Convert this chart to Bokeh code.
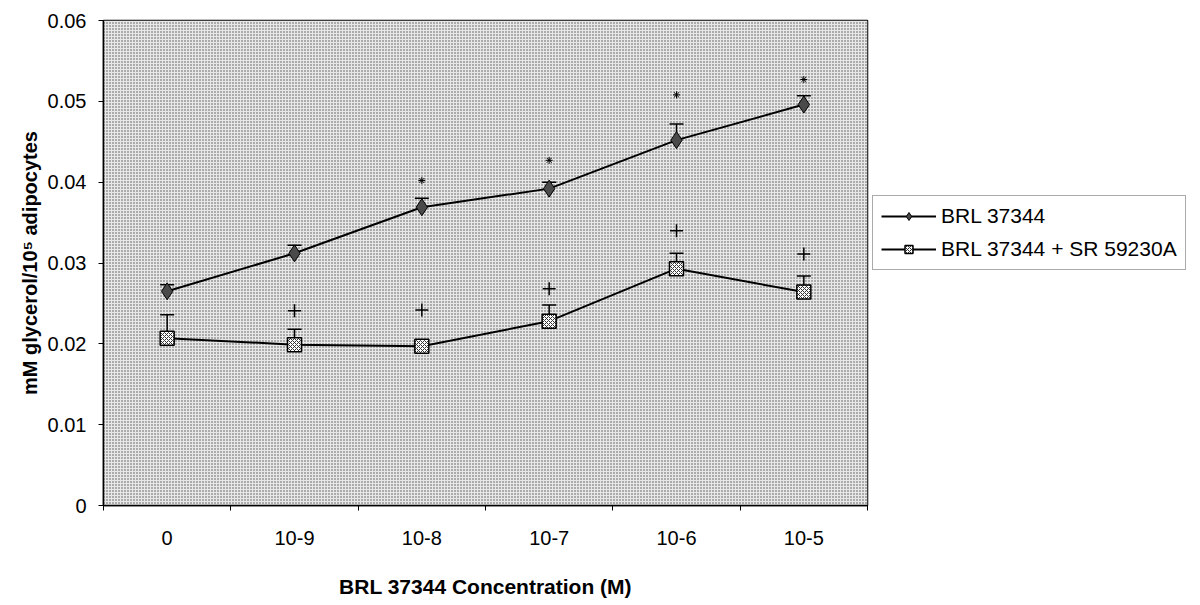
from bokeh.plotting import figure
from bokeh.models import (ColumnDataSource, Whisker, TeeHead, Legend, LegendItem,
                          FixedTicker, BoxAnnotation)
from bokeh.embed import file_html
from bokeh.resources import INLINE

# ---- data ----
categories = ["0", "10-9", "10-8", "10-7", "10-6", "10-5"]
brl = [0.0265, 0.0312, 0.0369, 0.0392, 0.0452, 0.0496]
brl_err = [0.0008, 0.0010, 0.0011, 0.0008, 0.0020, 0.0011]
brl_sr = [0.0207, 0.0199, 0.0197, 0.0228, 0.0293, 0.0264]
brl_sr_err = [0.0029, 0.0019, 0.0004, 0.0020, 0.0019, 0.0020]
star_cats = ["10-8", "10-7", "10-6", "10-5"]
star_y = [0.0402, 0.0427, 0.0508, 0.0527]
plus_cats = ["10-9", "10-8", "10-7", "10-6", "10-5"]
plus_y = [0.0241, 0.0242, 0.0268, 0.0340, 0.0311]
y_ticks = [0, 0.01, 0.02, 0.03, 0.04, 0.05, 0.06]
y_tick_labels = ["0", "0.01", "0.02", "0.03", "0.04", "0.05", "0.06"]

FONT = "Liberation Sans"

pos = {c: i + 0.5 for i, c in enumerate(categories)}
xs = [pos[c] for c in categories]

p = figure(frame_width=764, frame_height=485, x_range=(0, len(categories)),
           y_range=(0, 0.06), output_backend="svg", toolbar_location=None,
           min_border_left=103, min_border_top=20, min_border_right=326,
           min_border_bottom=98)
p.background_fill_color = "white"
p.border_fill_color = "white"
p.outline_line_color = "black"
p.outline_line_width = 1.5
p.xgrid.visible = False
p.ygrid.visible = False

# dotted background
p.add_layout(BoxAnnotation(fill_color="#e8e8e8", fill_alpha=1.0, line_alpha=0,
                           hatch_pattern="dot", hatch_color="#505050",
                           hatch_scale=3, hatch_weight=1, level="underlay"))

# axes
p.xaxis.ticker = FixedTicker(ticks=xs, minor_ticks=list(range(len(categories) + 1)))
p.xaxis.major_label_overrides = {x: c for x, c in zip(xs, categories)}
p.xaxis.major_tick_out = 0
p.xaxis.major_tick_in = 0
p.xaxis.minor_tick_out = 5
p.xaxis.minor_tick_in = 0
p.xaxis.minor_tick_line_color = "black"
p.xaxis.major_label_standoff = 20
p.xaxis.axis_label = "BRL 37344 Concentration (M)"
p.xaxis.axis_label_standoff = 27
p.xaxis.axis_label_text_font_size = "21px"

p.yaxis.ticker = FixedTicker(ticks=y_ticks)
p.yaxis.major_label_overrides = {t: l for t, l in zip(y_ticks, y_tick_labels)}
p.yaxis.major_tick_out = 5
p.yaxis.major_tick_in = 0
p.yaxis.minor_tick_out = 0
p.yaxis.minor_tick_in = 0
p.yaxis.major_label_standoff = 12
p.yaxis.axis_label = "mM glycerol/10\u2075 adipocytes"
p.yaxis.axis_label_standoff = 4
p.yaxis.axis_label_text_font_size = "20px"

for ax in (p.xaxis, p.yaxis):
    ax.axis_line_color = "black"
    ax.axis_line_width = 1.5
    ax.major_tick_line_color = "black"
    ax.major_label_text_font = FONT
    ax.major_label_text_font_size = "20px"
    ax.major_label_text_color = "black"
    ax.axis_label_text_font = FONT
    ax.axis_label_text_font_style = "bold"
    ax.axis_label_text_color = "black"

# sources
src1 = ColumnDataSource(dict(x=xs, y=brl, hi=[v + e for v, e in zip(brl, brl_err)]))
src2 = ColumnDataSource(dict(x=xs, y=brl_sr, hi=[v + e for v, e in zip(brl_sr, brl_sr_err)]))

# error bars (upper only)
for src in (src1, src2):
    p.add_layout(Whisker(base="x", lower="y", upper="hi", source=src,
                         line_color="black", line_width=1.5, lower_head=None,
                         upper_head=TeeHead(size=14, line_color="black", line_width=1.5)))

l1 = p.line("x", "y", source=src1, line_color="black", line_width=2)
m1 = p.scatter("x", "y", source=src1, marker="diamond", size=17,
               fill_color="#4a4a4a", line_color="black", line_width=1)
l2 = p.line("x", "y", source=src2, line_color="black", line_width=2)
m2 = p.scatter("x", "y", source=src2, marker="square", size=14,
               fill_color="white", line_color="black", line_width=1.5,
               hatch_pattern="x", hatch_color="#333333", hatch_scale=4, hatch_weight=1)

# significance marks
p.scatter([pos[c] for c in star_cats], star_y, marker="asterisk", size=7,
          line_color="black", line_width=1)
p.scatter([pos[c] for c in plus_cats], plus_y, marker="cross", size=13,
          line_color="black", line_width=1.5)

legend = Legend(items=[LegendItem(label="BRL 37344", renderers=[l1, m1]),
                       LegendItem(label="BRL 37344 + SR 59230A", renderers=[l2, m2])],
                location=(5, 235))
legend.label_text_font = FONT
legend.label_text_font_size = "21px"
legend.label_text_color = "black"
legend.border_line_color = "#555555"
legend.border_line_width = 1
legend.glyph_width = 55
legend.glyph_height = 20
legend.label_height = 20
legend.spacing = 9
legend.padding = 8
legend.margin = 0
legend.label_standoff = 5
legend.background_fill_color = "white"
p.add_layout(legend, "right")

open("out.html", "w").write(file_html(p, INLINE))
